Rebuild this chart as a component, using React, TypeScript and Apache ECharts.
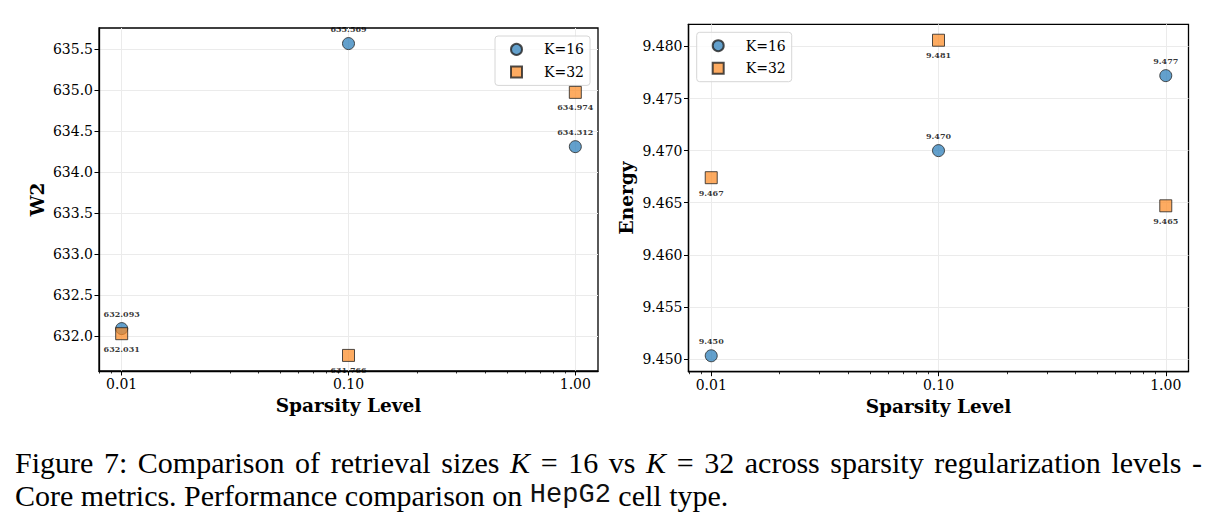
import React, { useEffect, useRef } from "react";
import * as echarts from "echarts";

// ---- data ----
const sparsityLevels = [0.01, 0.1, 1.0];
const xTickLabels = ["0.01", "0.10", "1.00"];
const w2K16 = [632.093, 635.569, 634.312];
const w2K32 = [632.031, 631.766, 634.974];
const energyK16 = [9.4503, 9.47, 9.4772];
const energyK32 = [9.4674, 9.4806, 9.4647];
const w2Ticks = [632.0, 632.5, 633.0, 633.5, 634.0, 634.5, 635.0, 635.5];
const energyTicks = [9.45, 9.455, 9.46, 9.465, 9.47, 9.475, 9.48];
const seriesNames = ["K=16", "K=32"];
const captionLine1 = [
  ["Figure", 0], ["7:", 0], ["Comparison", 0], ["of", 0], ["retrieval", 0], ["sizes", 0],
  ["K", 1], ["=", 0], ["16", 0], ["vs", 0], ["K", 1], ["=", 0], ["32", 0], ["across", 0],
  ["sparsity", 0], ["regularization", 0], ["levels", 0], ["-", 0],
] as [string, number][];
const captionLine2 = "Core metrics. Performance comparison on {m|HepG2} cell type.";

const SERIF = "DejaVu Serif";
const CAP = "Liberation Serif";
const CAP_SIZE = 30;

const majorX = sparsityLevels.map((s) => Math.log10(s));
const minorX: number[] = [];
[0.001, 0.01, 0.1].forEach((d) => {
  for (let k = 2; k <= 9; k++) {
    const v = Math.log10(d * k);
    if (v >= -2.1 && v <= 0.1 && Math.abs(v - Math.round(v)) > 1e-9) minorX.push(v);
  }
});

const gridColor = "#ebebeb";

function xAxes(gridIndex: number) {
  return [
    {
      gridIndex,
      type: "value",
      min: -2.1,
      max: 0.1,
      axisLine: { show: true, onZero: false, lineStyle: { color: "#000", width: 1.3 } },
      axisTick: { show: true, customValues: majorX, length: 4.5, lineStyle: { color: "#000", width: 1 } },
      axisLabel: {
        show: true,
        customValues: majorX,
        formatter: (v: number) => xTickLabels[majorX.findIndex((m) => Math.abs(m - v) < 1e-6)] ?? "",
        fontFamily: SERIF,
        fontSize: 14,
        color: "#000",
        margin: 6,
      },
      splitLine: { show: true, lineStyle: { color: gridColor, width: 1 } },
      name: "Sparsity Level",
      nameLocation: "middle",
      nameGap: 19,
      nameTextStyle: { fontFamily: SERIF, fontWeight: "bold", fontSize: 18.5, color: "#000" },
    },
    {
      gridIndex,
      type: "value",
      min: -2.1,
      max: 0.1,
      position: "bottom",
      axisLine: { show: false, onZero: false },
      axisTick: { show: true, customValues: minorX, length: 2.5, lineStyle: { color: "#000", width: 0.8 } },
      axisLabel: { show: false },
      splitLine: { show: false },
    },
  ];
}

function yAxis(gridIndex: number, min: number, max: number, ticks: number[], digits: number, name: string, gap: number) {
  return {
    gridIndex,
    type: "value",
    min,
    max,
    axisLine: { show: true, onZero: false, lineStyle: { color: "#000", width: 1.3 } },
    axisTick: { show: true, customValues: ticks, length: 4.5, lineStyle: { color: "#000", width: 1 } },
    axisLabel: {
      show: true,
      customValues: ticks,
      formatter: (v: number) => v.toFixed(digits),
      fontFamily: SERIF,
      fontSize: 14,
      color: "#000",
      margin: 6,
    },
    splitLine: { show: true, lineStyle: { color: gridColor, width: 1 } },
    name,
    nameLocation: "middle",
    nameGap: gap,
    nameTextStyle: { fontFamily: SERIF, fontWeight: "bold", fontSize: 18.5, color: "#000" },
  };
}

function makeSeries(name: string, vals: number[], xi: number, yi: number, isCircle: boolean) {
  return {
    type: "scatter",
    name,
    xAxisIndex: xi,
    yAxisIndex: yi,
    symbol: isCircle ? "circle" : "rect",
    symbolSize: 12,
    data: sparsityLevels.map((s, i) => [Math.log10(s), vals[i]]),
    itemStyle: {
      color: isCircle ? "rgba(44,126,186,0.92)" : "rgba(252,138,36,0.9)",
      borderColor: "#222",
      borderWidth: 1,
    },
    label: {
      show: true,
      position: isCircle ? "top" : "bottom",
      distance: 4.5,
      formatter: (p: any) => p.value[1].toFixed(3),
      fontFamily: SERIF,
      fontWeight: "bold",
      fontSize: 8,
      color: "#000",
    },
    emphasis: { disabled: true },
    z: isCircle ? 3 : 4,
  };
}

function legend(left: number, top: number) {
  return {
    data: [
      { name: seriesNames[0], icon: "circle" },
      { name: seriesNames[1], icon: "rect" },
    ],
    orient: "vertical",
    left,
    top,
    padding: [5.4, 6, 5.4, 15],
    itemWidth: 11,
    itemHeight: 11,
    itemGap: 6.6,
    borderColor: "#d6d6d6",
    borderWidth: 1,
    borderRadius: 3,
    backgroundColor: "rgba(255,255,255,0.8)",
    textStyle: { fontFamily: SERIF, fontSize: 14, color: "#000", lineHeight: 16, padding: [0, 0, 0, 17] },
    selectedMode: false,
  };
}

function captionGraphics() {
  const ctx = document.createElement("canvas").getContext("2d")!;
  const fontOf = (it: number) => `${it ? "italic " : ""}${CAP_SIZE}px "${CAP}"`;
  const widths = captionLine1.map(([t, it]) => {
    ctx.font = fontOf(it);
    return ctx.measureText(t).width;
  });
  const startX = 15;
  const endX = 1202;
  const total = widths.reduce((a, b) => a + b, 0);
  const gap = (endX - startX - total) / (captionLine1.length - 1);
  let x = startX;
  const els: any[] = captionLine1.map(([t, it], i) => {
    const el = {
      type: "text",
      x,
      y: 462.6,
      style: { text: t, font: fontOf(it), fill: "#000", verticalAlign: "middle", align: "left" },
    };
    x += widths[i] + gap;
    return el;
  });
  els.push({
    type: "text",
    x: startX,
    y: 495,
    style: {
      text: captionLine2,
      font: fontOf(0),
      fill: "#000",
      verticalAlign: "middle",
      align: "left",
      rich: { m: { fontFamily: "Liberation Mono", fontSize: 27, fill: "#111" } },
    },
  });
  return els;
}

export default function App() {
  const ref = useRef<HTMLDivElement>(null);
  useEffect(() => {
    document.body.style.margin = "0";
    const chart = echarts.init(ref.current!, null, { renderer: "svg" });
    chart.setOption({
      animation: false,
      backgroundColor: "#fff",
      grid: [
        { left: 99, right: 620, top: 28, bottom: 158, show: true, borderColor: "#000", borderWidth: 1.3, backgroundColor: "transparent" },
        { left: 688.5, right: 29.5, top: 24.3, bottom: 157.3, show: true, borderColor: "#000", borderWidth: 1.3, backgroundColor: "transparent" },
      ],
      xAxis: [...xAxes(0), ...xAxes(1)],
      yAxis: [
        yAxis(0, 631.576, 635.759, w2Ticks, 1, "W2", 52),
        yAxis(1, 9.44877, 9.48213, energyTicks, 3, "Energy", 53),
      ],
      legend: [legend(495, 36), legend(696.7, 32.3)],
      series: [
        makeSeries(seriesNames[0], w2K16, 0, 0, true),
        makeSeries(seriesNames[1], w2K32, 0, 0, false),
        makeSeries(seriesNames[0], energyK16, 2, 1, true),
        makeSeries(seriesNames[1], energyK32, 2, 1, false),
      ],
      graphic: captionGraphics(),
    });
    return () => chart.dispose();
  }, []);
  return <div ref={ref} style={{ position: "absolute", left: 0, top: 0, width: 1218, height: 529 }} />;
}
